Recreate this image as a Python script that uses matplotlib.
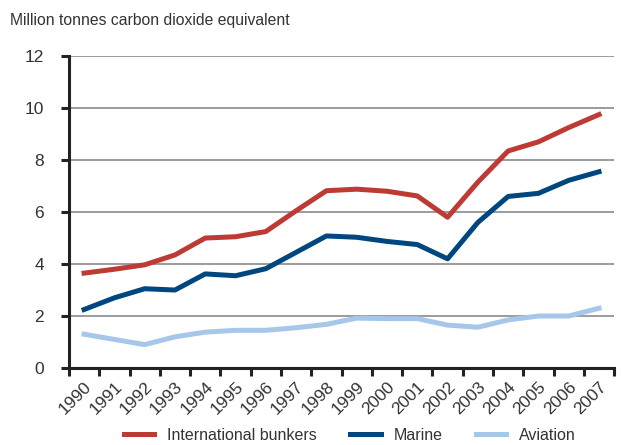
import numpy as np
from matplotlib import pyplot as plt

years = [str(y) for y in range(1990, 2008)]
bunkers = [3.65, 3.8, 3.97, 4.35, 5.0, 5.05, 5.25, 6.05, 6.82, 6.88, 6.8, 6.62, 5.8, 7.15, 8.35, 8.7, 9.25, 9.75]
marine = [2.25, 2.7, 3.05, 3.0, 3.62, 3.55, 3.82, 4.45, 5.08, 5.03, 4.87, 4.75, 4.2, 5.6, 6.6, 6.72, 7.22, 7.55]
aviation = [1.3, 1.1, 0.9, 1.2, 1.38, 1.45, 1.45, 1.55, 1.68, 1.92, 1.9, 1.9, 1.65, 1.57, 1.85, 2.0, 2.0, 2.3]

plt.rcParams['font.family'] = ['Liberation Sans', 'DejaVu Sans']

fig = plt.figure(figsize=(6.21, 4.45), dpi=100)
ax = fig.add_axes([0.111, 0.173, 0.878, 0.701])

x = np.arange(len(years)) + 0.5
ax.plot(x, bunkers, color='#BE3A34', lw=3.6, label='International bunkers')
ax.plot(x, marine, color='#00467F', lw=3.6, label='Marine')
ax.plot(x, aviation, color='#A6C6EA', lw=3.6, label='Aviation')

ax.set_xlim(0, len(years))
ax.set_ylim(0, 12)
ax.set_yticks(range(0, 13, 2))
ax.yaxis.grid(True, color='#8a8a8a', lw=1.2)
ax.set_axisbelow(True)

ax.set_xticks(np.arange(len(years) + 1), minor=True)
ax.set_xticks(x)
ax.set_xticklabels(years, rotation=45, ha='right', rotation_mode='anchor', fontsize=12.5, color='#333333')
ax.tick_params(axis='x', which='major', length=0, pad=8)
ax.tick_params(axis='x', which='minor', length=6, width=2.2, color='#222222')
ax.tick_params(axis='y', length=6, width=2.2, color='#222222', labelsize=12.5, labelcolor='#333333', pad=12)

for s in ['top', 'right']:
    ax.spines[s].set_visible(False)
for s in ['left', 'bottom']:
    ax.spines[s].set_linewidth(2.2)
    ax.spines[s].set_color('#222222')

fig.text(0.016, 0.955, 'Million tonnes carbon dioxide equivalent', fontsize=11.3, color='#333333', va='center')

leg = ax.legend(loc='lower center', bbox_to_anchor=(0.515, -0.27), ncol=3, frameon=False,
                fontsize=11.5, handlelength=1.9, columnspacing=2.1, handletextpad=0.8,
                borderaxespad=0.2)
for t in leg.get_texts():
    t.set_color('#333333')

plt.savefig('out.png', dpi=100)
